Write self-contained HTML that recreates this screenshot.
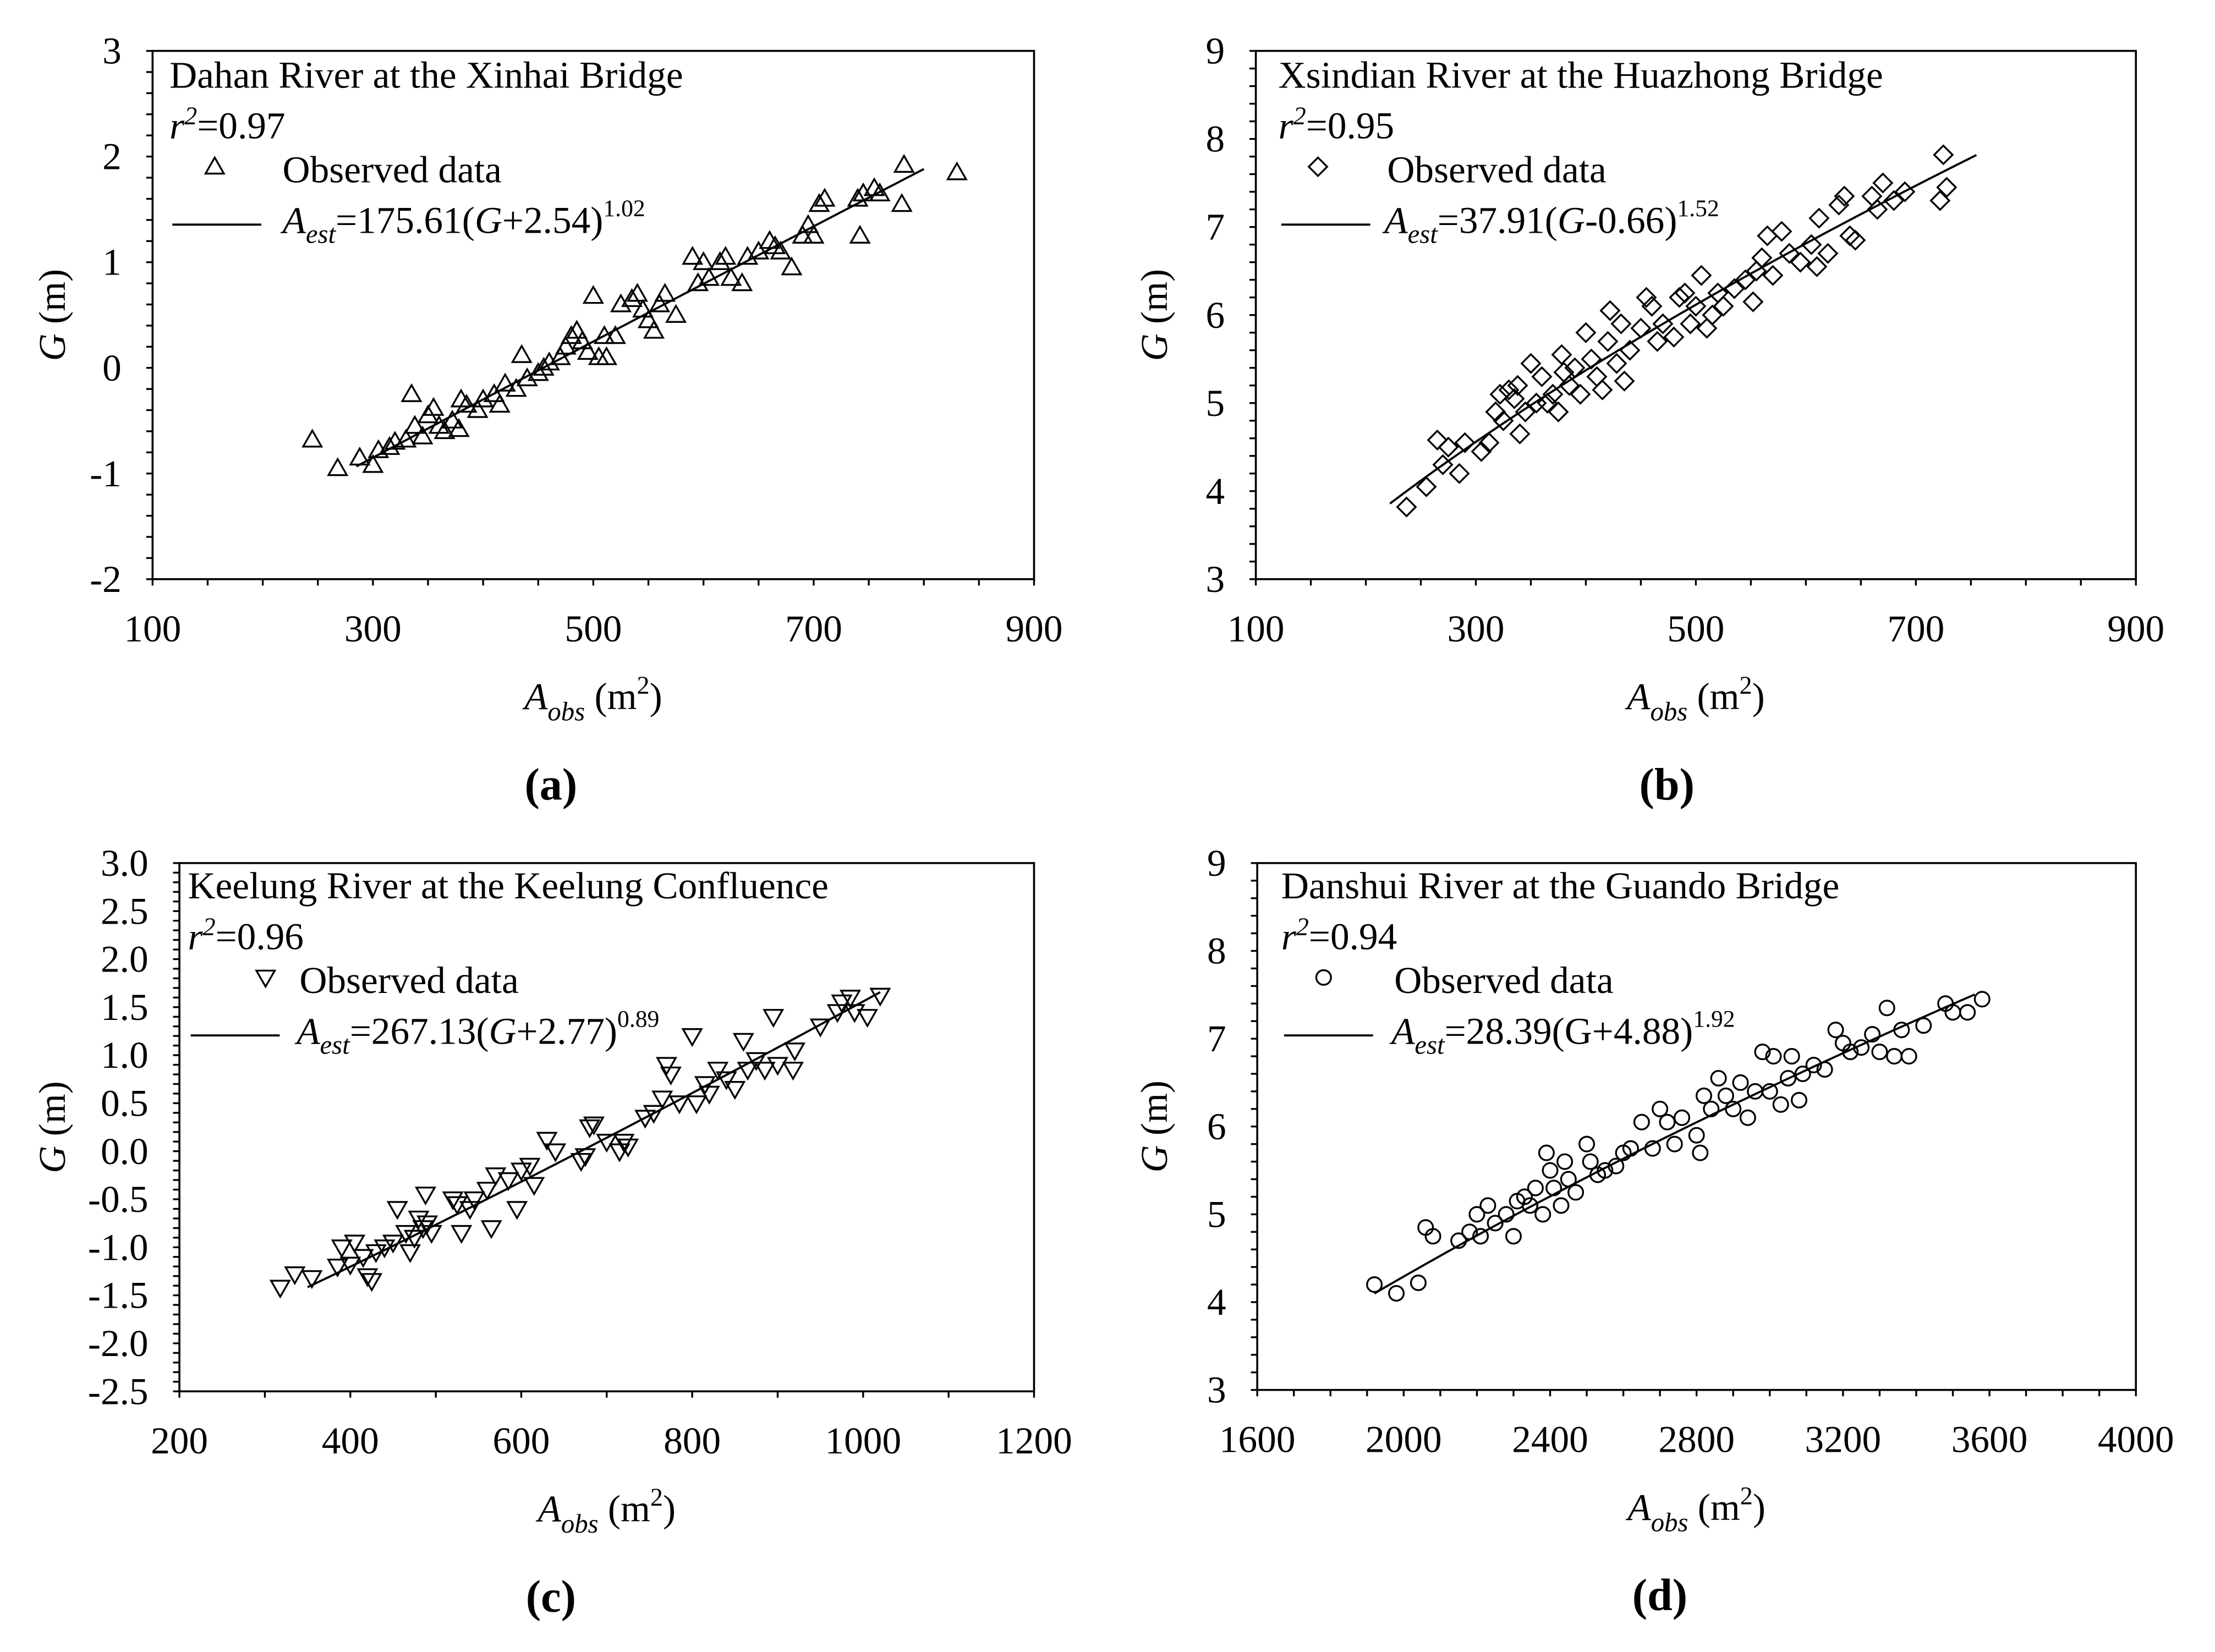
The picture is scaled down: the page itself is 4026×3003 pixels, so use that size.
<!DOCTYPE html>
<html><head><meta charset="utf-8">
<style>
html,body{margin:0;padding:0;background:#fff;}
svg{display:block;font-family:"Liberation Serif","DejaVu Serif",serif;}
</style></head>
<body>
<svg id="chart" width="4026" height="3003" viewBox="0 0 1568 1169.5" xmlns="http://www.w3.org/2000/svg"></svg>
<script>
const NS="http://www.w3.org/2000/svg";
const svg=document.getElementById('chart');

// Panel (a) data
const aA=[245,268,288,300,305,315,320,330,335,338,345,350,355,360,365,372,378,380,385,395,400,410,415,420,430,435,440,450,455,460,470,475,480,485,490,495,500,505,510,512,520,525,535,540,545,550,555,560,565,575,590,595,600,605,615,620,625,635,640,650,660,665,670,680,690,695,700,705,710,740,742,745,755,760,780,782,830];
const aG=[-0.68,-0.95,-0.85,-0.92,-0.78,-0.75,-0.7,-0.68,-0.25,-0.55,-0.65,-0.45,-0.38,-0.55,-0.6,-0.5,-0.58,-0.3,-0.35,-0.4,-0.3,-0.25,-0.35,-0.15,-0.2,0.12,-0.1,-0.05,0.0,0.05,0.1,0.2,0.3,0.35,0.25,0.15,0.68,0.1,0.3,0.1,0.3,0.6,0.65,0.7,0.55,0.45,0.35,0.6,0.7,0.5,1.05,0.8,1.0,0.85,1.0,1.05,0.85,0.8,1.05,1.1,1.2,1.15,1.1,0.95,1.25,1.35,1.25,1.55,1.6,1.6,1.25,1.65,1.7,1.65,1.55,1.92,1.85];
// Panel (b) data
const bA=[237,255,265,270,275,285,290,305,312,318,322,325,330,335,338,340,345,350,355,360,365,370,375,378,380,385,390,395,400,405,410,415,420,422,428,432,435,440,450,455,460,465,470,480,485,490,495,500,505,510,515,520,525,535,545,552,555,560,565,570,578,585,595,605,610,612,620,630,635,640,645,660,665,670,680,690,725,722,728];
const bG=[3.82,4.05,4.58,4.3,4.5,4.2,4.55,4.45,4.55,4.9,5.1,4.8,5.15,5.05,5.2,4.65,4.9,5.45,5.0,5.3,5.0,5.1,4.9,5.55,5.35,5.2,5.4,5.1,5.8,5.5,5.3,5.15,5.7,6.05,5.45,5.9,5.25,5.6,5.85,6.2,6.1,5.7,5.9,5.75,6.2,6.25,5.9,6.1,6.45,5.85,6.0,6.25,6.1,6.3,6.4,6.15,6.5,6.65,6.9,6.45,6.95,6.7,6.6,6.8,6.55,7.1,6.7,7.25,7.35,6.9,6.85,7.35,7.2,7.5,7.3,7.4,7.82,7.3,7.45];
// Panel (c) data
const cA=[318,335,355,385,390,400,405,415,420,425,430,440,450,455,465,470,475,480,485,488,490,495,520,525,530,540,545,560,565,570,585,595,600,610,615,630,640,670,675,680,685,700,715,720,725,745,755,765,770,775,785,800,805,815,820,830,840,850,860,865,875,885,895,900,920,918,950,970,975,985,990,1005,1020];
const cG=[-1.42,-1.28,-1.32,-1.2,-1.0,-1.18,-0.95,-1.1,-1.3,-1.35,-1.05,-1.0,-0.95,-0.6,-0.85,-1.05,-0.9,-0.7,-0.8,-0.45,-0.75,-0.85,-0.5,-0.55,-0.85,-0.6,-0.5,-0.4,-0.8,-0.25,-0.3,-0.6,-0.2,-0.15,-0.35,0.12,0.0,-0.1,-0.05,0.25,0.28,0.1,0.0,0.1,0.05,0.35,0.4,0.55,0.9,0.8,0.5,1.2,0.5,0.7,0.6,0.85,0.75,0.65,1.15,0.85,0.95,0.85,1.4,0.9,1.05,0.85,1.3,1.45,1.55,1.6,1.45,1.4,1.62];
// Panel (d) data
const dA=[1920,1980,2040,2060,2080,2150,2180,2200,2210,2230,2250,2280,2300,2310,2330,2345,2360,2380,2390,2400,2410,2430,2440,2450,2470,2500,2510,2530,2550,2580,2600,2620,2650,2680,2700,2720,2740,2760,2800,2810,2820,2840,2860,2880,2900,2920,2940,2960,2980,3000,3010,3030,3050,3060,3080,3090,3120,3150,3180,3200,3220,3250,3280,3300,3320,3340,3360,3380,3420,3480,3500,3540,3580];
const dG=[4.2,4.1,4.22,4.85,4.75,4.7,4.8,5.0,4.75,5.1,4.9,5.0,4.75,5.15,5.2,5.1,5.3,5.0,5.7,5.5,5.3,5.1,5.6,5.4,5.25,5.8,5.6,5.45,5.5,5.55,5.7,5.75,6.05,5.75,6.2,6.05,5.8,6.1,5.9,5.7,6.35,6.2,6.55,6.35,6.2,6.5,6.1,6.4,6.85,6.4,6.8,6.25,6.55,6.8,6.3,6.6,6.7,6.65,7.1,6.95,6.85,6.9,7.05,6.85,7.35,6.8,7.1,6.8,7.15,7.4,7.3,7.3,7.45];

const aXTicks=[100,300,500,700,900], aYTicks=[-2,-1,0,1,2,3];
const bXTicks=[100,300,500,700,900], bYTicks=[3,4,5,6,7,8,9];
const cXTicks=[200,400,600,800,1000,1200], cYTicks=[-2.5,-2.0,-1.5,-1.0,-0.5,0.0,0.5,1.0,1.5,2.0,2.5,3.0];
const dXTicks=[1600,2000,2400,2800,3200,3600,4000], dYTicks=[3,4,5,6,7,8,9];

function el(tag,attrs,parent){const e=document.createElementNS(NS,tag);for(const k in attrs)e.setAttribute(k,attrs[k]);(parent||svg).appendChild(e);return e;}

function panel(cfg){
  const g=el('g',{});
  
  
  const {x0,x1,y0,y1,xmin,xmax,ymin,ymax}=cfg;
  const sx=v=>x0+(v-xmin)/(xmax-xmin)*(x1-x0);
  const sy=v=>y1-(v-ymin)/(ymax-ymin)*(y1-y0);
  const fr=el('rect',{x:x0,y:y0,width:x1-x0,height:y1-y0,fill:'none',stroke:'#000','stroke-width':1.4},g);
  
  
  // minor + major ticks
  const nx=Math.round((xmax-xmin)/cfg.xm);
  for(let i=0;i<=nx;i++){const v=xmin+i*cfg.xm;el('line',{x1:sx(v),x2:sx(v),y1:y1,y2:y1+4.5,stroke:'#000','stroke-width':1.3},g);}
  const ny=Math.round((ymax-ymin)/cfg.ym);
  for(let i=0;i<=ny;i++){const v=ymin+i*cfg.ym;el('line',{x1:x0-4.5,x2:x0,y1:sy(v),y2:sy(v),stroke:'#000','stroke-width':1.3},g);}
  cfg.xt.forEach(v=>{
    const t=el('text',{x:sx(v),y:y1+44,'font-size':27,'text-anchor':'middle'},g);
    
    
    t.textContent=v;
  });
  cfg.yt.forEach(v=>{
    const t=el('text',{x:x0-22,y:sy(v)+9,'font-size':27,'text-anchor':'end'},g);
    
    
    t.textContent=cfg.yfmt?v.toFixed(1):v;
  });
  let pts=[];
  for(let i=0;i<=60;i++){const A=cfg.fa+(cfg.fb-cfg.fa)*i/60;pts.push(sx(A).toFixed(2)+','+sy(cfg.fit(A)).toFixed(2));}
  const fl=el('polyline',{points:pts.join(' '),fill:'none',stroke:'#000','stroke-width':1.5},g);
  
  
  cfg.xs.forEach((A,i)=>{
    const m=marker(cfg.mk,sx(A),sy(cfg.ys[i]),g);
    
    
  });
  const L=cfg.leg;
  const t1=el('text',{x:L.x,y:L.y,'font-size':27},g);
  
  
  t1.textContent=cfg.title;
  const t2=el('text',{x:L.x,y:L.y+36,'font-size':27},g);
  
  
  t2.innerHTML='<tspan font-style="italic">r</tspan><tspan font-size="18" dy="-10" font-style="italic">2</tspan><tspan dy="10">='+cfg.r2+'</tspan>';
  const lm=marker(cfg.mk,L.mx,L.y+56,g);
  
  
  const t3=el('text',{x:L.tx,y:L.y+67,'font-size':27},g);
  
  
  t3.textContent='Observed data';
  const ll=el('line',{x1:L.x+2,x2:L.x+65,y1:L.y+97,y2:L.y+97,stroke:'#000','stroke-width':1.5},g);
  
  
  const t4=el('text',{x:L.ex,y:L.y+103,'font-size':27},g);
  
  
  t4.innerHTML='<tspan font-style="italic">A</tspan><tspan font-size="19" dy="7" font-style="italic">est</tspan><tspan dy="-7">='+cfg.eq[0]+'(</tspan><tspan font-style="'+(cfg.eqItal?'italic':'normal')+'">G</tspan><tspan>'+cfg.eq[1]+')</tspan><tspan font-size="17" dy="-12">'+cfg.eq[2]+'</tspan>';
  const cx=(x0+x1)/2;
  const xl=el('text',{x:cx,y:y1+92,'font-size':27,'text-anchor':'middle'},g);
  
  
  xl.innerHTML='<tspan font-style="italic">A</tspan><tspan font-size="19" dy="8" font-style="italic">obs</tspan><tspan dy="-8"> (m</tspan><tspan font-size="18" dy="-11">2</tspan><tspan dy="11">)</tspan>';
  const cy=(y0+y1)/2;
  const yl=el('text',{x:0,y:0,'font-size':27,'text-anchor':'middle',transform:'translate('+cfg.ylx+','+cy+') rotate(-90)'},g);
  
  
  yl.innerHTML='<tspan font-style="italic">G</tspan> (m)';
  const pl=el('text',{x:cfg.plx,y:y1+156,'font-size':32,'font-weight':'bold','text-anchor':'middle'},g);
  
  
  pl.textContent=cfg.label;
}
function marker(type,x,y,g){
  const s=6.5;
  const st={fill:'none',stroke:'#000','stroke-width':1.3};
  if(type==='up') return el('polygon',Object.assign({points:`${x},${y-s} ${x-s},${y+s*0.75} ${x+s},${y+s*0.75}`},st),g);
  if(type==='down') return el('polygon',Object.assign({points:`${x},${y+s} ${x-s},${y-s*0.75} ${x+s},${y-s*0.75}`},st),g);
  if(type==='dia') return el('polygon',Object.assign({points:`${x},${y-s} ${x+s},${y} ${x},${y+s} ${x-s},${y}`},st),g);
  return el('circle',Object.assign({cx:x,cy:y,r:5.2},st),g);
}

panel({name:'panel-a',x0:108,x1:732,y0:36,y1:410,xmin:100,xmax:900,ymin:-2,ymax:3,xm:50,ym:0.2,xt:aXTicks,yt:aYTicks,xs:aA,ys:aG,mk:'up',
  fit:A=>Math.pow(A/175.61,1/1.02)-2.54,fa:285,fb:800,title:'Dahan River at the Xinhai Bridge',r2:'0.97',
  leg:{x:120,y:62,mx:152,tx:200,ex:200},eq:['175.61','+2.54','1.02'],eqItal:true,ylx:46,plx:390,label:'(a)'});
panel({name:'panel-b',x0:889,x1:1512,y0:36,y1:410,xmin:100,xmax:900,ymin:3,ymax:9,xm:50,ym:0.2,xt:bXTicks,yt:bYTicks,xs:bA,ys:bG,mk:'dia',
  fit:A=>Math.pow(A/37.91,1/1.52)+0.66,fa:222,fb:755,title:'Xsindian River at the Huazhong Bridge',r2:'0.95',
  leg:{x:905,y:62,mx:933,tx:982,ex:980},eq:['37.91','-0.66','1.52'],eqItal:true,ylx:826,plx:1180,label:'(b)'});
panel({name:'panel-c',x0:127,x1:732,y0:611,y1:985,xmin:200,xmax:1200,ymin:-2.5,ymax:3,xm:100,ym:0.1,xt:cXTicks,yt:cYTicks,xs:cA,ys:cG,mk:'down',yfmt:true,
  fit:A=>Math.pow(A/267.13,1/0.89)-2.77-0.08*(A-350)/670,fa:350,fb:1020,title:'Keelung River at the Keelung Confluence',r2:'0.96',
  leg:{x:133,y:636,mx:188,tx:212,ex:210},eq:['267.13','+2.77','0.89'],eqItal:true,ylx:46,plx:390,label:'(c)'});
panel({name:'panel-d',x0:890,x1:1512,y0:611,y1:984,xmin:1600,xmax:4000,ymin:3,ymax:9,xm:100,ym:0.2,xt:dXTicks,yt:dYTicks,xs:dA,ys:dG,mk:'circ',
  fit:A=>Math.pow(A/28.39,1/1.92)-4.88,fa:1920,fb:3560,title:'Danshui River at the Guando Bridge',r2:'0.94',
  leg:{x:907,y:636,mx:937,tx:987,ex:985},eq:['28.39','+4.88','1.92'],eqItal:false,ylx:826,plx:1175,label:'(d)'});
</script>
</body></html>
